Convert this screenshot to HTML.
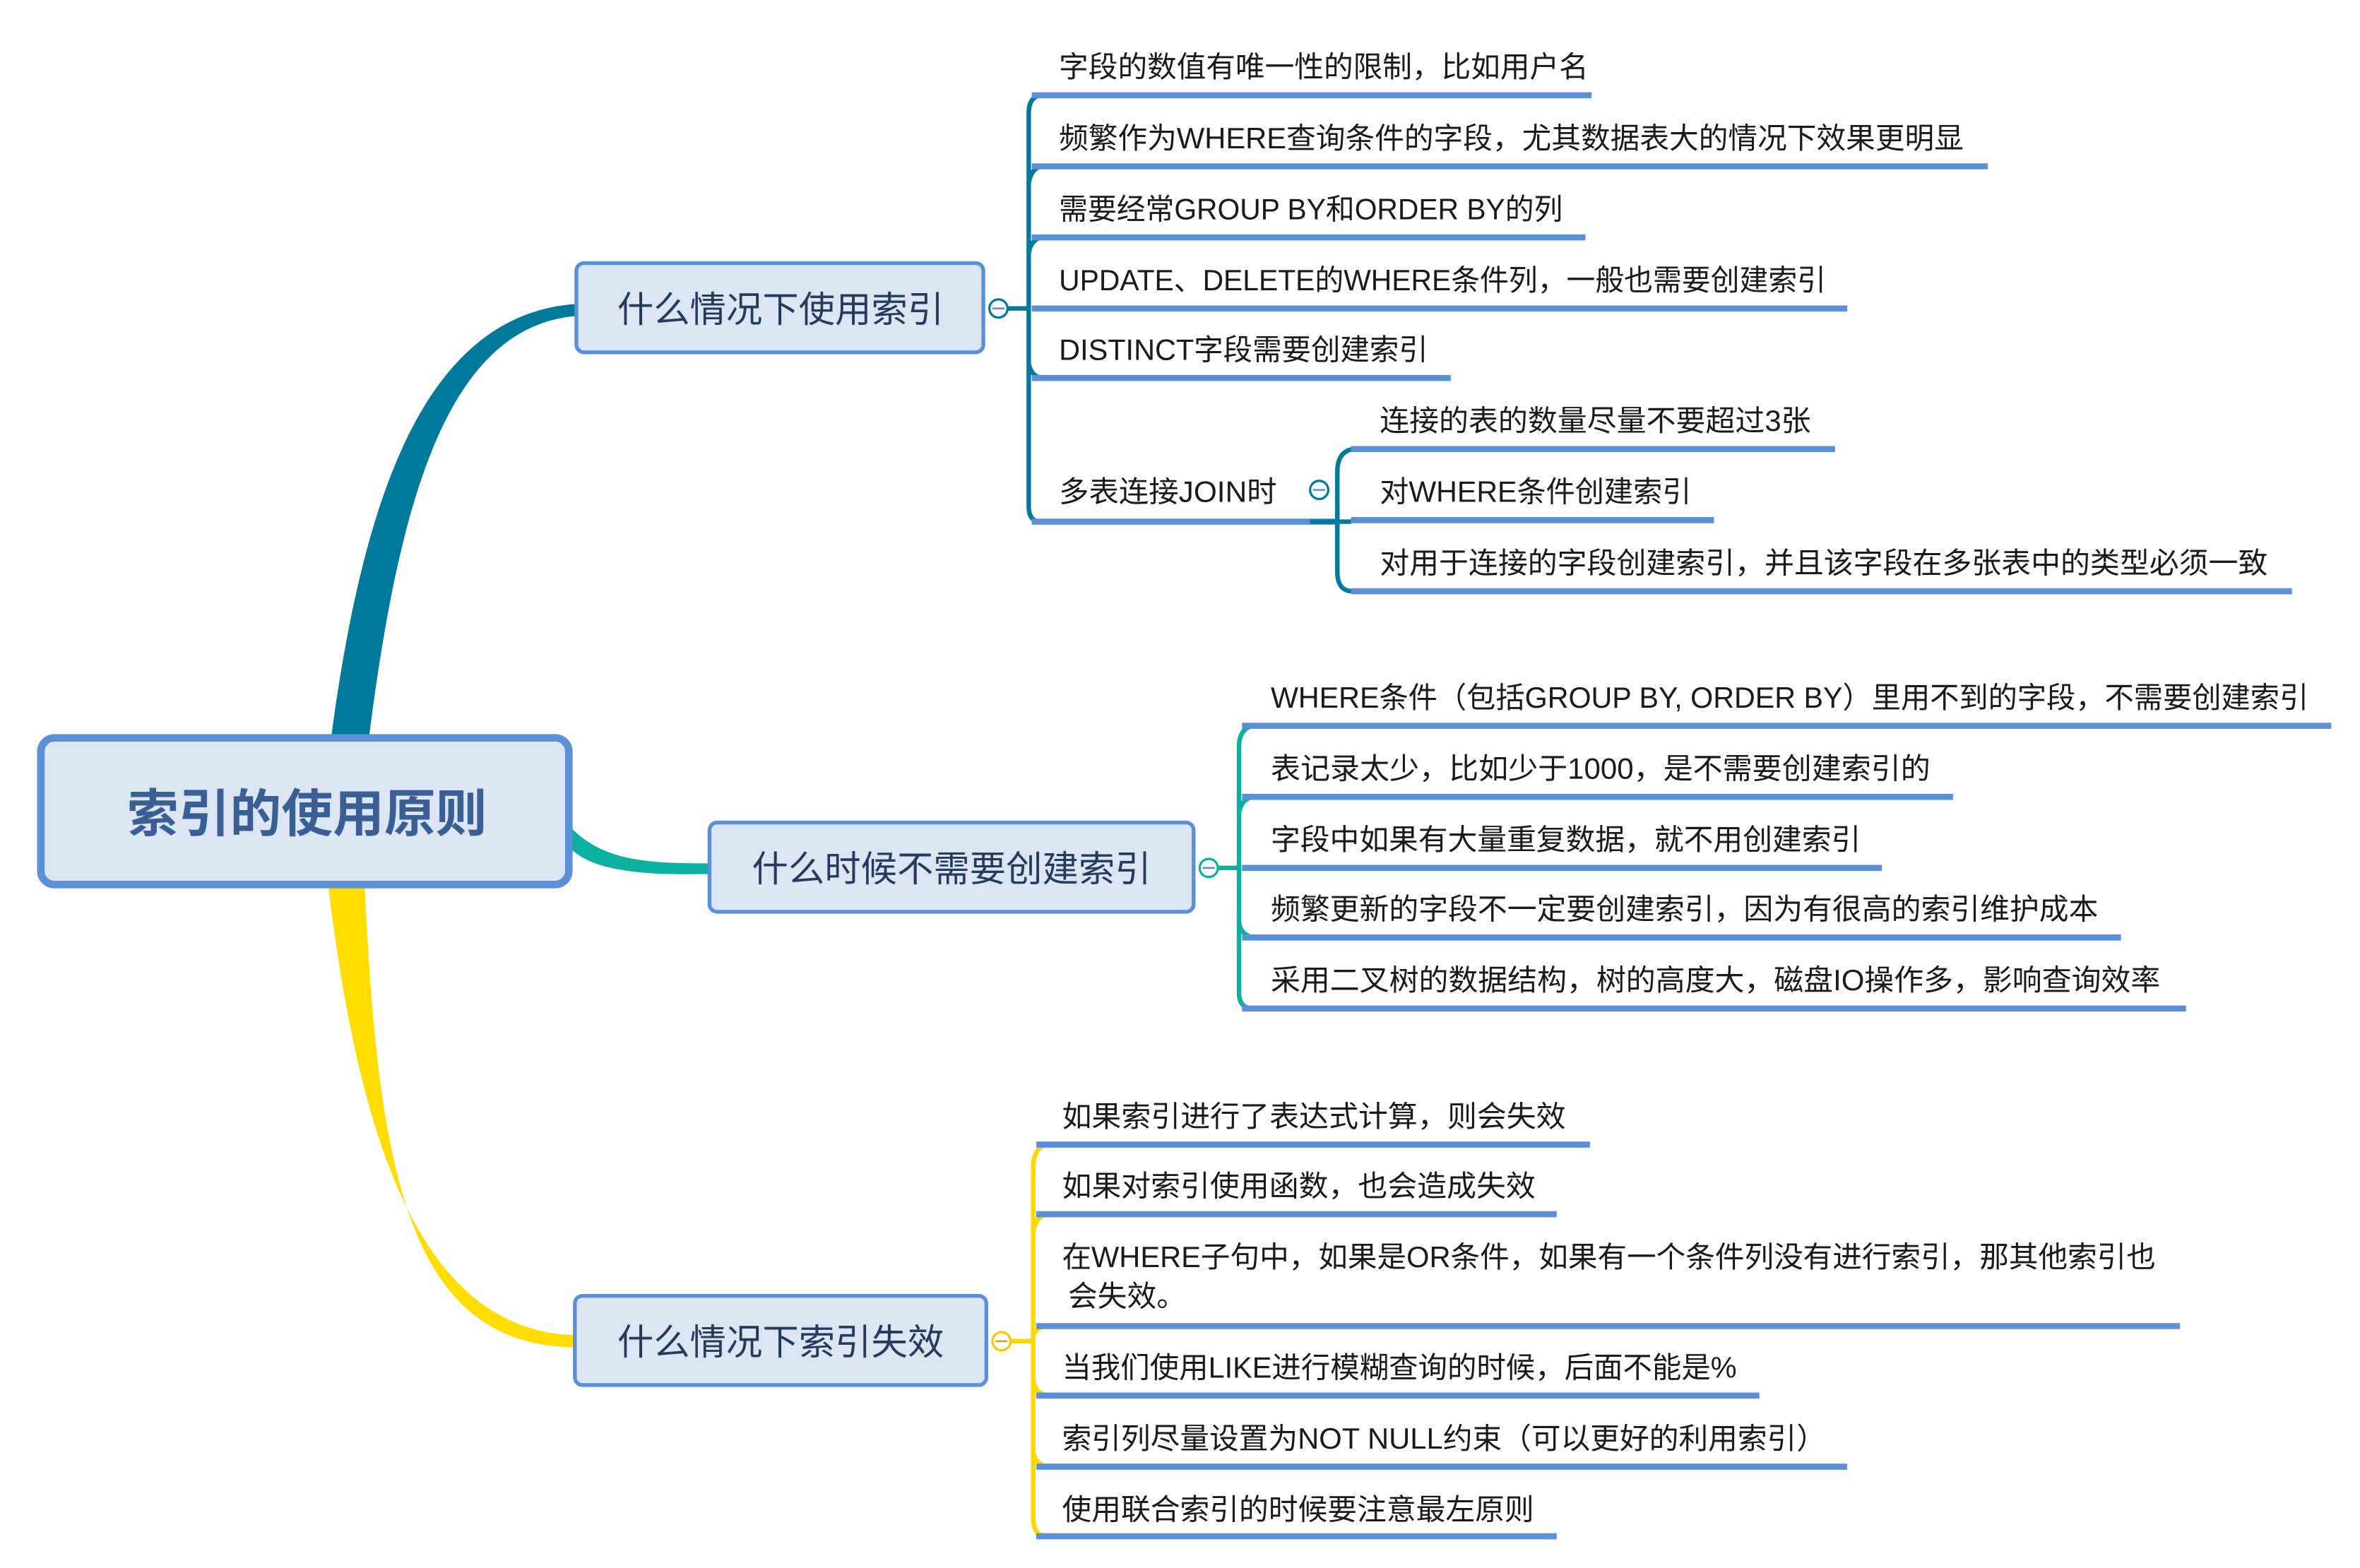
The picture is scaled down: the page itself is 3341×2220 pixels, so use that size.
<!DOCTYPE html>
<html><head><meta charset="utf-8"><style>
html,body{margin:0;padding:0;background:#fff;}
svg{display:block;}
text{font-family:"Liberation Sans","Noto Sans CJK SC",sans-serif;}
.t{font-size:19.5px;fill:#1a1a1a;}
.u{stroke:#5b8fd6;stroke-width:4;fill:none;}
</style></head><body>
<svg width="3341" height="2220" viewBox="0 0 1560 1037" preserveAspectRatio="none" xmlns="http://www.w3.org/2000/svg">
<rect width="1560" height="1037" fill="#fff"/>
<!-- connectors -->
<path d="M219,487 C240,330 280,208 381,201 L381,209 C296,216 264,330 244,487 Z" fill="#00799b"/>
<path d="M378,548 C400,570 430,571 469,571 L469,578 C425,579 393,576 378,562 Z" fill="#0bb0a0"/>
<path d="M217,586 C238,760 280,880 380,883 L380,891 C268,890 250,770 241,586 Z" fill="#ffdd00"/>

<!-- root -->
<rect x="27" y="488" width="349" height="97" rx="9" fill="#dce6f2" stroke="#5b8fd6" stroke-width="5"/>
<text x="203" y="550" text-anchor="middle" style="font-size:34px;font-weight:bold;fill:#3a5f94;font-family:'Liberation Sans','Noto Sans CJK SC',sans-serif;">索引的使用原则</text>

<!-- branch boxes -->
<rect x="381" y="174" width="269" height="59" rx="5" fill="#dce6f2" stroke="#5b8fd6" stroke-width="2.5"/>
<text x="516" y="213" text-anchor="middle" style="font-size:24px;fill:#243b5e;">什么情况下使用索引</text>
<rect x="469" y="544" width="320" height="59" rx="5" fill="#dce6f2" stroke="#5b8fd6" stroke-width="2.5"/>
<text x="629" y="583" text-anchor="middle" style="font-size:24px;fill:#243b5e;">什么时候不需要创建索引</text>
<rect x="380" y="857" width="272" height="59" rx="5" fill="#dce6f2" stroke="#5b8fd6" stroke-width="2.5"/>
<text x="516" y="896" text-anchor="middle" style="font-size:24px;fill:#243b5e;">什么情况下索引失效</text>

<!-- branch 1 -->
<circle cx="660" cy="204" r="6" fill="#fff" stroke="#00799b" stroke-width="1.5"/>
<line x1="656" y1="204" x2="664" y2="204" stroke="#5b8fd6" stroke-width="1.2"/>
<line x1="666" y1="204" x2="680" y2="204" stroke="#00799b" stroke-width="3"/>
<path d="M688,63 Q680,64 680,75 L680,335 Q680,345 688,345" stroke="#00799b" stroke-width="3" fill="none"/>
<path d="M688,110 Q681,112 680,122 M688,157 Q681,159 680,168 M688,250 Q681,248 680,240" stroke="#00799b" stroke-width="3" fill="none"/>
<line class="u" x1="682" y1="63" x2="1052" y2="63"/>
<line class="u" x1="682" y1="110" x2="1314" y2="110"/>
<line class="u" x1="682" y1="157" x2="1048" y2="157"/>
<line class="u" x1="682" y1="204" x2="1221" y2="204"/>
<line class="u" x1="682" y1="250" x2="959" y2="250"/>
<line class="u" x1="682" y1="345" x2="884" y2="345"/>
<text class="t" x="700" y="51" textLength="350" lengthAdjust="spacingAndGlyphs">字段的数值有唯一性的限制，比如用户名</text>
<text class="t" x="700" y="98" textLength="598" lengthAdjust="spacingAndGlyphs">频繁作为WHERE查询条件的字段，尤其数据表大的情况下效果更明显</text>
<text class="t" x="700" y="145" textLength="333" lengthAdjust="spacingAndGlyphs">需要经常GROUP BY和ORDER BY的列</text>
<text class="t" x="700" y="192" textLength="507" lengthAdjust="spacingAndGlyphs">UPDATE、DELETE的WHERE条件列，一般也需要创建索引</text>
<text class="t" x="700" y="238" textLength="244" lengthAdjust="spacingAndGlyphs">DISTINCT字段需要创建索引</text>
<text class="t" x="700" y="332" textLength="144" lengthAdjust="spacingAndGlyphs">多表连接JOIN时</text>
<circle cx="872" cy="324" r="6" fill="#fff" stroke="#00799b" stroke-width="1.5"/>
<line x1="868" y1="324" x2="876" y2="324" stroke="#5b8fd6" stroke-width="1.2"/>
<line x1="866" y1="345" x2="893" y2="345" stroke="#00799b" stroke-width="3"/>
<path d="M894,297 Q884,299 884,312 L884,378 Q884,391 894,391" stroke="#00799b" stroke-width="3" fill="none"/>
<line class="u" x1="893" y1="297" x2="1213" y2="297"/>
<line class="u" x1="893" y1="344" x2="1133" y2="344"/>
<line class="u" x1="893" y1="391" x2="1515" y2="391"/>
<text class="t" x="912" y="285" textLength="285" lengthAdjust="spacingAndGlyphs">连接的表的数量尽量不要超过3张</text>
<text class="t" x="912" y="332" textLength="206" lengthAdjust="spacingAndGlyphs">对WHERE条件创建索引</text>
<text class="t" x="912" y="379" textLength="587" lengthAdjust="spacingAndGlyphs">对用于连接的字段创建索引，并且该字段在多张表中的类型必须一致</text>

<!-- branch 2 -->
<circle cx="799" cy="574" r="6" fill="#fff" stroke="#0bb0a0" stroke-width="1.5"/>
<line x1="795" y1="574" x2="803" y2="574" stroke="#5b8fd6" stroke-width="1.2"/>
<line x1="805" y1="574" x2="819" y2="574" stroke="#0bb0a0" stroke-width="3"/>
<path d="M828,480 Q819,482 819,494 L819,656 Q819,667 828,667" stroke="#0bb0a0" stroke-width="3" fill="none"/>
<path d="M828,527 Q820,529 819,538 M828,620 Q820,618 819,610" stroke="#0bb0a0" stroke-width="3" fill="none"/>
<line class="u" x1="821" y1="480" x2="1541" y2="480"/>
<line class="u" x1="821" y1="527" x2="1291" y2="527"/>
<line class="u" x1="821" y1="574" x2="1244" y2="574"/>
<line class="u" x1="821" y1="620" x2="1402" y2="620"/>
<line class="u" x1="821" y1="667" x2="1445" y2="667"/>
<text class="t" x="840" y="468" textLength="686" lengthAdjust="spacingAndGlyphs">WHERE条件（包括GROUP BY, ORDER BY）里用不到的字段，不需要创建索引</text>
<text class="t" x="840" y="515" textLength="436" lengthAdjust="spacingAndGlyphs">表记录太少，比如少于1000，是不需要创建索引的</text>
<text class="t" x="840" y="562" textLength="390" lengthAdjust="spacingAndGlyphs">字段中如果有大量重复数据，就不用创建索引</text>
<text class="t" x="840" y="608" textLength="547" lengthAdjust="spacingAndGlyphs">频繁更新的字段不一定要创建索引，因为有很高的索引维护成本</text>
<text class="t" x="840" y="655" textLength="588" lengthAdjust="spacingAndGlyphs">采用二叉树的数据结构，树的高度大，磁盘IO操作多，影响查询效率</text>

<!-- branch 3 -->
<circle cx="662" cy="887" r="6" fill="#fff" stroke="#f5c800" stroke-width="1.5"/>
<line x1="658" y1="887" x2="666" y2="887" stroke="#e0a000" stroke-width="1.2"/>
<line x1="668" y1="887" x2="683" y2="887" stroke="#ffd700" stroke-width="3"/>
<path d="M692,757 Q683,759 683,772 L683,1004 Q683,1016 692,1016" stroke="#ffd700" stroke-width="3" fill="none"/>
<path d="M692,803 Q684,805 683,815 M692,877 Q684,878 683,884 M692,923 Q684,921 683,913 M692,970 Q684,968 683,960" stroke="#ffd700" stroke-width="3" fill="none"/>
<line class="u" x1="685" y1="757" x2="1051" y2="757"/>
<line class="u" x1="685" y1="803" x2="1029" y2="803"/>
<line class="u" x1="685" y1="877" x2="1441" y2="877"/>
<line class="u" x1="685" y1="923" x2="1163" y2="923"/>
<line class="u" x1="685" y1="970" x2="1221" y2="970"/>
<line class="u" x1="685" y1="1016" x2="1029" y2="1016"/>
<text class="t" x="702" y="745" textLength="333" lengthAdjust="spacingAndGlyphs">如果索引进行了表达式计算，则会失效</text>
<text class="t" x="702" y="791" textLength="313" lengthAdjust="spacingAndGlyphs">如果对索引使用函数，也会造成失效</text>
<text class="t" x="702" y="838" textLength="723" lengthAdjust="spacingAndGlyphs">在WHERE子句中，如果是OR条件，如果有一个条件列没有进行索引，那其他索引也</text>
<text class="t" x="706" y="864">会失效。</text>
<text class="t" x="702" y="911" textLength="446" lengthAdjust="spacingAndGlyphs">当我们使用LIKE进行模糊查询的时候，后面不能是%</text>
<text class="t" x="702" y="958" textLength="505" lengthAdjust="spacingAndGlyphs">索引列尽量设置为NOT NULL约束（可以更好的利用索引）</text>
<text class="t" x="702" y="1005" textLength="312" lengthAdjust="spacingAndGlyphs">使用联合索引的时候要注意最左原则</text>
</svg>
</body></html>
